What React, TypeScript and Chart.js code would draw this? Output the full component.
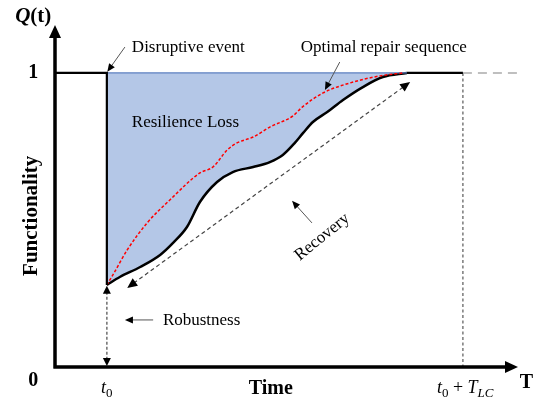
import React, { useEffect, useRef } from "react";
import { Chart, registerables } from "chart.js";
Chart.register(...registerables);

// ---- data (x: time units, y: functionality Q(t)) ----
const T0 = 11.2;
const T_END = 88.1; // t0 + T_LC
const X_MAX = 100;
const Y_MAX = 1.163;
const Q_DROP = 0.279;
const recoveryX = [11.2, 14.0, 18.4, 22.7, 25.5, 28.5, 31.3, 35.0, 38.4, 42.8, 46.4, 49.2, 51.8, 53.6, 55.7, 58.8, 62.2, 66.5, 70.8, 76.0];
const recoveryQ = [0.279, 0.306, 0.340, 0.381, 0.422, 0.476, 0.561, 0.629, 0.663, 0.680, 0.697, 0.721, 0.762, 0.796, 0.833, 0.867, 0.908, 0.952, 0.986, 1.0];
const optimalX = [11.2, 12.5, 15.6, 19.9, 24.8, 31.3, 34.1, 37.2, 39.3, 42.8, 46.4, 51.4, 53.4, 57.9, 64.4, 70.2, 75.2];
const optimalQ = [0.279, 0.313, 0.398, 0.490, 0.568, 0.660, 0.680, 0.738, 0.762, 0.782, 0.816, 0.854, 0.884, 0.932, 0.969, 0.990, 1.0];
const preEventX = [0, T0, T0];
const preEventQ = [1, 1, Q_DROP];
const tailX = [76.0, T_END];
const tailQ = [1, 1];
const futureX = [T_END, X_MAX];
const futureQ = [1, 1];

const pts = (xs: number[], ys: number[]) => xs.map((x, i) => ({ x, y: ys[i] }));

const FONT = "'Liberation Serif', 'Times New Roman', serif";

function arrowHead(ctx: CanvasRenderingContext2D, x1: number, y1: number, x2: number, y2: number, len: number, hw: number, color: string) {
  const a = Math.atan2(y2 - y1, x2 - x1);
  ctx.save();
  ctx.setLineDash([]);
  ctx.fillStyle = color;
  ctx.beginPath();
  ctx.moveTo(x2, y2);
  ctx.lineTo(x2 - len * Math.cos(a) + hw * Math.sin(a), y2 - len * Math.sin(a) - hw * Math.cos(a));
  ctx.lineTo(x2 - len * Math.cos(a) - hw * Math.sin(a), y2 - len * Math.sin(a) + hw * Math.cos(a));
  ctx.closePath();
  ctx.fill();
  ctx.restore();
}

function arrow(ctx: CanvasRenderingContext2D, x1: number, y1: number, x2: number, y2: number, o: any) {
  const len = o.len ?? 9, hw = o.hw ?? 4;
  const a = Math.atan2(y2 - y1, x2 - x1);
  const sx = o.both ? x1 + len * 0.8 * Math.cos(a) : x1;
  const sy = o.both ? y1 + len * 0.8 * Math.sin(a) : y1;
  const ex = x2 - len * 0.8 * Math.cos(a);
  const ey = y2 - len * 0.8 * Math.sin(a);
  ctx.save();
  ctx.strokeStyle = o.color;
  ctx.lineWidth = o.width ?? 1;
  ctx.setLineDash(o.dash ?? []);
  ctx.beginPath();
  ctx.moveTo(sx, sy);
  ctx.lineTo(ex, ey);
  ctx.stroke();
  ctx.restore();
  arrowHead(ctx, x1, y1, x2, y2, len, hw, o.head ?? "#000");
  if (o.both) arrowHead(ctx, x2, y2, x1, y1, len, hw, o.head ?? "#000");
}

type Seg = { t: string; i?: boolean; b?: boolean; sub?: boolean };
function rich(ctx: CanvasRenderingContext2D, segs: Seg[], cx: number, cy: number, size: number, align = "center") {
  const font = (s: Seg) => `${s.i ? "italic " : ""}${s.b ? "bold " : ""}${s.sub ? Math.round(size * 0.7) : size}px ${FONT}`;
  let total = 0;
  const ws = segs.map((s) => {
    ctx.font = font(s);
    const w = ctx.measureText(s.t).width;
    total += w;
    return w;
  });
  let x = align === "center" ? cx - total / 2 : cx;
  ctx.save();
  ctx.fillStyle = "#000";
  ctx.textBaseline = "middle";
  ctx.textAlign = "left";
  segs.forEach((s, k) => {
    ctx.font = font(s);
    ctx.fillText(s.t, x, cy + (s.sub ? size * 0.28 : 0));
    x += ws[k];
  });
  ctx.restore();
}

const overlay = {
  id: "overlay",
  afterDatasetsDraw(chart: any) {
    const ctx: CanvasRenderingContext2D = chart.ctx;
    const X = (v: number) => chart.scales.x.getPixelForValue(v);
    const Y = (v: number) => chart.scales.y.getPixelForValue(v);

    // robustness vertical double arrow
    arrow(ctx, X(T0), Y(0.003), X(T0), Y(Q_DROP - 0.003), { color: "#777", width: 1.6, dash: [3, 2], both: true, len: 8, hw: 4 });
    // recovery dashed double arrow
    arrow(ctx, X(15.6), Y(0.269), X(76.7), Y(0.969), { color: "#444", width: 1.2, dash: [4, 3], both: true, len: 10, hw: 4.5 });

    // axes
    ctx.save();
    ctx.strokeStyle = "#000";
    ctx.lineWidth = 3.5;
    ctx.beginPath();
    ctx.moveTo(X(0), Y(0) + 1.5);
    ctx.lineTo(X(0), Y(Y_MAX) + 10);
    ctx.moveTo(X(0) - 1.5, Y(0));
    ctx.lineTo(X(X_MAX) - 10, Y(0));
    ctx.stroke();
    ctx.restore();
    arrowHead(ctx, X(0), Y(0), X(0), Y(Y_MAX), 13, 6, "#000");
    arrowHead(ctx, X(0), Y(0), X(X_MAX), Y(0), 13, 6, "#000");

    // annotation arrows
    arrow(ctx, X(15.1), Y(1.088), X(T0 + 0.1), Y(1.004), { color: "#555", width: 1, len: 8, hw: 3.5 });
    arrow(ctx, X(61.5), Y(1.037), X(58.3), Y(0.942), { color: "#555", width: 1, len: 8, hw: 3.5 });
    arrow(ctx, X(55.5), Y(0.49), X(51.2), Y(0.565), { color: "#555", width: 1, len: 8, hw: 3.5 });
    arrow(ctx, X(21.2), Y(0.16), X(15.1), Y(0.16), { color: "#555", width: 1, len: 8, hw: 3.5 });

    // texts
    rich(ctx, [{ t: "Disruptive event" }], X(16.6), Y(1.085), 17, "left");
    rich(ctx, [{ t: "Optimal repair sequence" }], X(71.0), Y(1.085), 17);
    rich(ctx, [{ t: "Resilience Loss" }], X(16.6), Y(0.83), 17, "left");
    rich(ctx, [{ t: "Robustness" }], X(23.3), Y(0.157), 17, "left");

    ctx.save();
    ctx.translate(X(57.7), Y(0.442));
    ctx.rotate((-39 * Math.PI) / 180);
    rich(ctx, [{ t: "Recovery" }], 0, 0, 17);
    ctx.restore();

    ctx.save();
    ctx.translate(X(-5.0), Y(0.514));
    ctx.rotate(-Math.PI / 2);
    rich(ctx, [{ t: "Functionality", b: true }], 0, 0, 21);
    ctx.restore();

    rich(ctx, [{ t: "Q", i: true, b: true }, { t: "(t)", b: true }], X(-4.7), Y(1.19), 21);
    rich(ctx, [{ t: "1", b: true }], X(-4.7), Y(1.0), 20);
    rich(ctx, [{ t: "0", b: true }], X(-4.7), Y(-0.048), 20);
    rich(ctx, [{ t: "Time", b: true }], X(46.6), Y(-0.075), 20);
    rich(ctx, [{ t: "T", b: true }], X(101.8), Y(-0.055), 20);
    rich(ctx, [{ t: "t", i: true }, { t: "0", sub: true }], X(T0), Y(-0.072), 18);
    rich(ctx, [{ t: "t", i: true }, { t: "0", sub: true }, { t: " + " }, { t: "T", i: true }, { t: "LC", i: true, sub: true }], X(T_END + 0.5), Y(-0.072), 18);
  },
};

export default function App() {
  const ref = useRef<HTMLCanvasElement>(null);
  useEffect(() => {
    if (!ref.current) return;
    const line = { pointRadius: 0, fill: false, tension: 0 };
    const chart = new Chart(ref.current, {
      type: "line",
      data: {
        datasets: [
          { ...line, data: pts(recoveryX, recoveryQ), borderColor: "#000", borderWidth: 2.5, cubicInterpolationMode: "monotone", fill: { value: 1 }, backgroundColor: "#b4c7e7", order: 3 } as any,
          { ...line, data: pts([T0, 76.0], [1, 1]), borderColor: "#5b7fc0", borderWidth: 1.2, order: 2 },
          { ...line, data: pts(optimalX, optimalQ), borderColor: "#ff0000", borderWidth: 1.5, borderDash: [3, 2], cubicInterpolationMode: "monotone", order: 1 } as any,
          { ...line, data: pts(preEventX, preEventQ), borderColor: "#000", borderWidth: 2.2, order: 0 },
          { ...line, data: pts(tailX, tailQ), borderColor: "#000", borderWidth: 2.2, order: 0 },
          { ...line, data: pts(futureX, futureQ), borderColor: "#aaa", borderWidth: 1.5, borderDash: [9, 6], order: 0 },
          { ...line, data: pts([T_END, T_END], [1, 0]), borderColor: "#666", borderWidth: 1.3, borderDash: [3, 2.5], order: 0 },
        ],
      },
      options: {
        animation: false,
        responsive: false,
        layout: { padding: { left: 55, right: 28, top: 25, bottom: 32 } },
        plugins: { legend: { display: false }, tooltip: { enabled: false } },
        scales: {
          x: { type: "linear", min: 0, max: X_MAX, display: false },
          y: { type: "linear", min: 0, max: Y_MAX, display: false },
        },
      },
      plugins: [overlay],
    });
    return () => chart.destroy();
  }, []);
  return (
    <div style={{ position: "absolute", left: 0, top: 0, width: 546, height: 399, background: "#fff" }}>
      <canvas ref={ref} width={546} height={399} style={{ display: "block" }} />
    </div>
  );
}
